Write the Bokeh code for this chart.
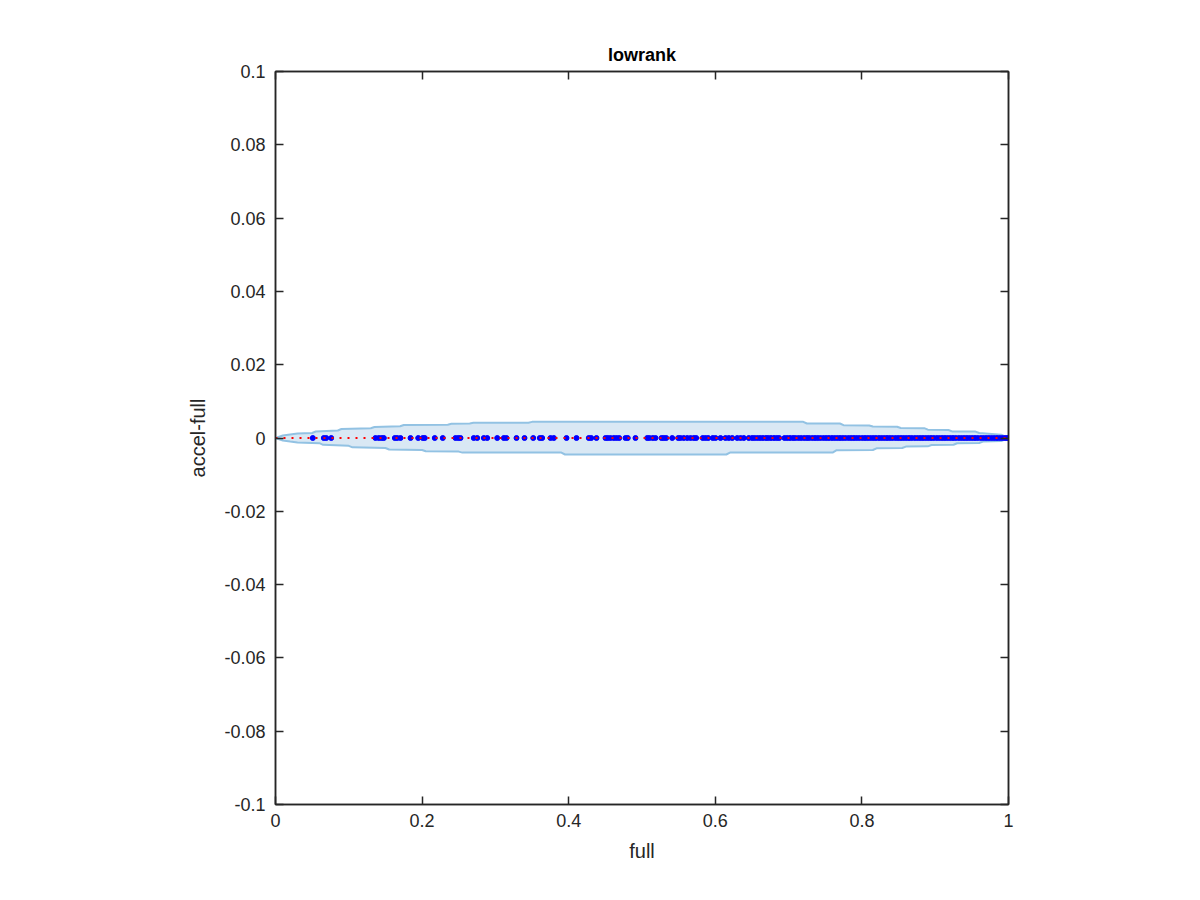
from bokeh.plotting import figure
from bokeh.models import LinearAxis, FixedTicker, Range1d
from bokeh.embed import file_html
from bokeh.resources import INLINE

# ---------------- data ----------------
title_text = "lowrank"
x_label = "full"
y_label = "accel-full"

x_ticks = [0, 0.2, 0.4, 0.6, 0.8, 1]
x_tick_labels = ["0", "0.2", "0.4", "0.6", "0.8", "1"]
y_ticks = [-0.1, -0.08, -0.06, -0.04, -0.02, 0, 0.02, 0.04, 0.06, 0.08, 0.1]
y_tick_labels = ["-0.1", "-0.08", "-0.06", "-0.04", "-0.02", "0",
                 "0.02", "0.04", "0.06", "0.08", "0.1"]

# sample points (full score) ; accel-full differences are ~0
full_vals = [
    0.0509, 0.0659, 0.0692, 0.0760, 0.1364, 0.1409, 0.1446, 0.1478, 0.1628,
    0.1660, 0.1705, 0.1842, 0.1947, 0.2010, 0.2037, 0.2173, 0.2282, 0.2456,
    0.2493, 0.2524, 0.2705, 0.2752, 0.2842, 0.2888, 0.3025, 0.3115, 0.3151,
    0.3288, 0.3397, 0.3516, 0.3606, 0.3638, 0.3752, 0.3797, 0.3970, 0.4106,
    0.4274, 0.4307, 0.4379, 0.4502, 0.4533, 0.4570, 0.4615, 0.4652, 0.4689,
    0.4775, 0.4806, 0.4911, 0.5071, 0.5102, 0.5147, 0.5184, 0.5266, 0.5297,
    0.5330, 0.5412, 0.5494, 0.5525, 0.5570, 0.5617, 0.5662, 0.5707, 0.5739,
    0.5829, 0.5866, 0.5903, 0.5966, 0.6003, 0.6071, 0.6139, 0.6184, 0.6231,
    0.6299, 0.6344, 0.6389, 0.6457, 0.6503,
    0.6537, 0.6575, 0.6612, 0.6650, 0.6691, 0.6723, 0.6760, 0.6801, 0.6838,
    0.6871, 0.6945, 0.6982, 0.7020, 0.7061, 0.7094, 0.7135, 0.7172, 0.7213,
    0.7250, 0.7283, 0.7324, 0.7361, 0.7398, 0.7435, 0.7476, 0.7513, 0.7550,
    0.7591, 0.7628, 0.7665, 0.7702, 0.7739, 0.7776, 0.7817, 0.7854, 0.7891,
    0.7928, 0.7965, 0.8006, 0.8043, 0.8080, 0.8117, 0.8154, 0.8191, 0.8232,
    0.8269, 0.8306, 0.8343, 0.8380, 0.8417, 0.8458, 0.8495, 0.8532, 0.8569,
    0.8606, 0.8643, 0.8680, 0.8721, 0.8758, 0.8795, 0.8832, 0.8869, 0.8906,
    0.8943, 0.8980, 0.9021, 0.9058, 0.9095, 0.9132, 0.9169, 0.9206, 0.9243,
    0.9280, 0.9321, 0.9358, 0.9395, 0.9432, 0.9469, 0.9506, 0.9543, 0.9580,
    0.9621, 0.9658, 0.9695, 0.9732, 0.9769, 0.9806, 0.9843, 0.9880, 0.9917,
    0.9954, 0.9985, 1.0,
]
accel_minus_full = [0.0 for _ in full_vals]

# reference line
ref_x = [0, 1]
ref_y = [0, 0]

# confidence envelope (upper / lower edges)
env_up_x = [0, 0.01, 0.02, 0.03, 0.05, 0.055, 0.085, 0.09, 0.13, 0.135, 0.17,
            0.175, 0.235, 0.24, 0.265, 0.27, 0.345, 0.35, 0.72, 0.725, 0.77,
            0.775, 0.81, 0.815, 0.848, 0.853, 0.885, 0.89, 0.918, 0.923, 0.955,
            0.96, 0.99, 1.0]
env_up_y = [0, 0.00068, 0.00096, 0.00123, 0.00137, 0.00177, 0.00205, 0.00246,
            0.00268, 0.00300, 0.00322, 0.00355, 0.00363, 0.00388, 0.00396,
            0.00415, 0.00415, 0.00440, 0.00440, 0.00396, 0.00396, 0.00349,
            0.00341, 0.00314, 0.00308, 0.00273, 0.00268, 0.00227, 0.00218,
            0.00180, 0.00175, 0.00137, 0.00090, 0]
env_lo_x = [0, 0.01, 0.02, 0.03, 0.06, 0.065, 0.1, 0.105, 0.15, 0.155, 0.2,
            0.205, 0.25, 0.255, 0.39, 0.395, 0.615, 0.62, 0.76, 0.765, 0.815,
            0.82, 0.855, 0.86, 0.89, 0.895, 0.925, 0.93, 0.96, 0.965, 0.99, 1.0]
env_lo_y = [0, -0.00068, -0.00096, -0.00123, -0.00142, -0.00186, -0.00213,
            -0.00254, -0.00273, -0.00314, -0.00328, -0.00363, -0.00371,
            -0.00399, -0.00399, -0.00450, -0.00450, -0.00399, -0.00399,
            -0.00336, -0.00328, -0.00281, -0.00273, -0.00235, -0.00227,
            -0.00191, -0.00183, -0.00142, -0.00137, -0.00098, -0.00082, 0]

# ---------------- figure ----------------
FONT = "Liberation Sans"
AX = "#262626"

p = figure(output_backend="svg", toolbar_location=None,
           frame_width=733, frame_height=733,
           min_border_left=275, min_border_top=71,
           min_border_right=160, min_border_bottom=80,
           x_range=Range1d(0, 1), y_range=Range1d(-0.1, 0.1),
           title=title_text, x_axis_label=x_label, y_axis_label=y_label)

p.background_fill_color = "white"
p.border_fill_color = "white"
p.outline_line_color = AX
p.outline_line_width = 1.5
p.xgrid.visible = False
p.ygrid.visible = False

p.title.align = "center"
p.title.text_font = FONT
p.title.text_font_size = "18px"
p.title.text_font_style = "bold"
p.title.text_color = "black"
p.title.standoff = 14

for ax in (p.xaxis[0], p.yaxis[0]):
    ax.axis_line_color = AX
    ax.axis_line_width = 1.5
    ax.major_tick_line_color = AX
    ax.major_tick_line_width = 1.5
    ax.major_tick_in = 8
    ax.major_tick_out = 0
    ax.minor_tick_line_color = None
    ax.major_label_text_font = FONT
    ax.major_label_text_font_size = "18px"
    ax.major_label_text_color = AX
    ax.axis_label_text_font = FONT
    ax.axis_label_text_font_size = "20px"
    ax.axis_label_text_font_style = "normal"
    ax.axis_label_text_color = AX

p.xaxis[0].ticker = FixedTicker(ticks=x_ticks)
p.xaxis[0].major_label_overrides = dict(zip(x_ticks, x_tick_labels))
p.xaxis[0].major_label_standoff = 9
p.xaxis[0].axis_label_standoff = 10
p.yaxis[0].ticker = FixedTicker(ticks=y_ticks)
p.yaxis[0].major_label_standoff = 10
p.yaxis[0].major_label_overrides = dict(zip(y_ticks, y_tick_labels))
p.yaxis[0].axis_label_standoff = 12

# ticks on top and right (box style)
top_ax = LinearAxis(ticker=FixedTicker(ticks=x_ticks))
right_ax = LinearAxis(ticker=FixedTicker(ticks=y_ticks))
for ax in (top_ax, right_ax):
    ax.axis_line_color = AX
    ax.axis_line_width = 1.5
    ax.major_tick_line_color = AX
    ax.major_tick_line_width = 1.5
    ax.major_tick_in = 8
    ax.major_tick_out = 0
    ax.minor_tick_line_color = None
    ax.major_label_text_font_size = "0px"
    ax.major_label_text_color = None
    ax.major_label_standoff = 0
p.add_layout(top_ax, "above")
p.add_layout(right_ax, "right")

# envelope band
band_x = env_up_x + env_lo_x[::-1]
band_y = env_up_y + env_lo_y[::-1]
p.patch(x=band_x, y=band_y, fill_color="#d9e8f4", fill_alpha=1.0,
        line_color="#92c2e3", line_width=2)

# points
p.scatter(x=full_vals, y=accel_minus_full, size=5, marker="circle",
          fill_color="#0000ff", line_color="#0000ff")

# reference dotted line
p.line(x=ref_x, y=ref_y, line_color="#ff0000", line_width=2,
       line_dash="2 6")

open("out.html", "w").write(file_html(p, INLINE))
